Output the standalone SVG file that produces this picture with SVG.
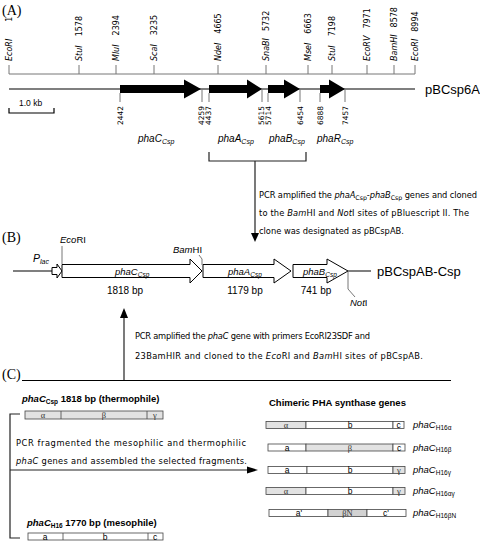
<svg xmlns="http://www.w3.org/2000/svg" width="480" height="545" viewBox="0 0 480 545">
<style>
text{font-family:"Liberation Sans",Arial,sans-serif;fill:#000}
.lbl{font-family:"Liberation Serif","Times New Roman",serif;font-size:14px}
.rt{font-family:"DejaVu Sans",Verdana,sans-serif;font-size:8px}
.rb{font-family:"DejaVu Sans",Verdana,sans-serif;font-size:7.5px}
.it{font-style:italic}
.g{stroke:#777;stroke-width:1;fill:none}
.k{stroke:#000;stroke-width:1.2;fill:none}
.c{stroke:#222;stroke-width:1.2;fill:none}
.blk{fill:#000}
.box{fill:#fff;stroke:#000;stroke-width:1}
.bar{stroke:#444;stroke-width:0.8}
.sh{fill:#e2e2e2}
.sh2{fill:#d2d2d2}
.wh{fill:#fff}
.gr{font-family:"Liberation Serif","Times New Roman",serif;font-size:8.5px;fill:#333;text-anchor:middle}
.la{font-size:8.5px;text-anchor:middle}
.t9{font-family:"DejaVu Sans",Verdana,sans-serif;font-size:8.3px}
.gene{font-size:10px;font-style:italic}
.b{font-weight:bold}
.mid{text-anchor:middle}
</style>

<g id="label-A"><text class="lbl" x="2" y="15">(A)</text></g>

<g id="restriction-map">
  <line class="g" x1="9" y1="74" x2="415" y2="74"/>
  <path class="g" d="M9,65V74M79,65V74M116,65V74M154,65V74M218,65V74M266,65V74M308,65V74M332,65V74M367,65V74M394,65V74M415,65V74"/>
  <text class="rt" transform="translate(9,61) rotate(-90)" y="3"><tspan class="it">EcoRI</tspan><tspan dx="17">1</tspan></text>
  <text class="rt" transform="translate(79,61) rotate(-90)" y="3"><tspan class="it">StuI</tspan><tspan dx="9">1578</tspan></text>
  <text class="rt" transform="translate(116,61) rotate(-90)" y="3"><tspan class="it">MluI</tspan><tspan dx="9">2394</tspan></text>
  <text class="rt" transform="translate(154,61) rotate(-90)" y="3"><tspan class="it">ScaI</tspan><tspan dx="9">3235</tspan></text>
  <text class="rt" transform="translate(218,61) rotate(-90)" y="3"><tspan class="it">NdeI</tspan><tspan dx="9">4665</tspan></text>
  <text class="rt" transform="translate(266,61) rotate(-90)" y="3"><tspan class="it">SnaBI</tspan><tspan dx="7">5732</tspan></text>
  <text class="rt" transform="translate(308,61) rotate(-90)" y="3"><tspan class="it">MseI</tspan><tspan dx="9">6663</tspan></text>
  <text class="rt" transform="translate(332,61) rotate(-90)" y="3"><tspan class="it">StuI</tspan><tspan dx="9">7198</tspan></text>
  <text class="rt" transform="translate(367,61) rotate(-90)" y="3"><tspan class="it">EcoRV</tspan><tspan dx="7">7971</tspan></text>
  <text class="rt" transform="translate(394,61) rotate(-90)" y="3"><tspan class="it">BamHI</tspan><tspan dx="7">8578</tspan></text>
  <text class="rt" transform="translate(415,61) rotate(-90)" y="3"><tspan class="it">EcoRI</tspan><tspan dx="7">8994</tspan></text>
</g>

<g id="pBCsp6A">
  <line class="k" x1="9" y1="89" x2="415" y2="89"/>
  <text x="425" y="94" font-size="13">pBCsp6A</text>
  <polygon class="blk" points="120,85 184,85 184,79.5 201,89 184,98.5 184,93 120,93"/>
  <polygon class="blk" points="209,85 247,85 247,79.5 262,89 247,98.5 247,93 209,93"/>
  <polygon class="blk" points="268,85 284,85 284,79.5 300,89 284,98.5 284,93 268,93"/>
  <polygon class="blk" points="320,85 329,85 329,79.5 345,89 329,98.5 329,93 320,93"/>
  <path class="g" d="M120,93V102M202,89V102M209,93V102M262,89V102M268,93V102M300,89V102M320,93V102M345,89V102"/>
  <text class="rb" text-anchor="end" transform="translate(120,106) rotate(-90)" y="2.7">2442</text>
  <text class="rb" text-anchor="end" transform="translate(201,106) rotate(-90)" y="2.7">4259</text>
  <text class="rb" text-anchor="end" transform="translate(208.5,106) rotate(-90)" y="2.7">4437</text>
  <text class="rb" text-anchor="end" transform="translate(261,106) rotate(-90)" y="2.7">5615</text>
  <text class="rb" text-anchor="end" transform="translate(268.5,106) rotate(-90)" y="2.7">5714</text>
  <text class="rb" text-anchor="end" transform="translate(300,106) rotate(-90)" y="2.7">6454</text>
  <text class="rb" text-anchor="end" transform="translate(320,106) rotate(-90)" y="2.7">6888</text>
  <text class="rb" text-anchor="end" transform="translate(345,106) rotate(-90)" y="2.7">7457</text>
  <text class="gene" x="138" y="142">phaC<tspan font-size="7" dy="1.5">Csp</tspan></text>
  <text class="gene" x="218" y="142">phaA<tspan font-size="7" dy="1.5">Csp</tspan></text>
  <text class="gene" x="269" y="142">phaB<tspan font-size="7" dy="1.5">Csp</tspan></text>
  <text class="gene" x="317" y="142">phaR<tspan font-size="7" dy="1.5">Csp</tspan></text>
</g>

<g id="scale-bar">
  <path class="k" d="M9,108V113H54V108" stroke-width="1"/>
  <text x="19" y="106" font-size="8.5">1.0 kb</text>
</g>

<g id="connectors">
  <path class="c" d="M209,152V161H306V152M255,161V234"/>
  <polygon class="blk" points="251,233 259,233 255,242"/>
  <path class="c" d="M124,380V318"/>
  <polygon class="blk" points="120,318 128,318 124,308"/>
  <path class="c" d="M20,414H10V538H20M10,470H249"/>
  <polygon class="blk" points="247,466.5 258,470 247,473.5"/>
</g>

<g id="note-1">
  <text class="t9" x="259" y="198" textLength="218">PCR amplified the <tspan class="it">phaA</tspan><tspan font-size="6.3" dy="1.5">Csp</tspan><tspan dy="-1.5">-</tspan><tspan class="it">phaB</tspan><tspan font-size="6.3" dy="1.5">Csp</tspan><tspan dy="-1.5"> genes and cloned</tspan></text>
  <text class="t9" x="259" y="216" textLength="210">to the <tspan class="it">Bam</tspan>HI and <tspan class="it">Not</tspan>I sites of pBluescript II. The</text>
  <text class="t9" x="259" y="234">clone was designated as pBCspAB.</text>
</g>

<g id="label-B"><text class="lbl" x="2" y="242">(B)</text></g>

<g id="pBCspAB-Csp">
  <path class="k" d="M13,271H52M348,271H371"/>
  <polygon class="box" stroke-width="0.8" points="52,267.5 57,267.5 57,264 62,271 57,278 57,274.5 52,274.5"/>
  <text x="33" y="262" font-size="10.5" class="it">P<tspan font-size="7" dy="1.5">lac</tspan></text>
  <path class="g" d="M62,246V264"/>
  <text x="60" y="243" font-size="9.5"><tspan class="it">Eco</tspan>RI</text>
  <polygon class="box" points="62,264.5 190,264.5 190,259 202,271 190,283 190,277.5 62,277.5"/>
  <text x="173" y="253" font-size="9.5"><tspan class="it">Bam</tspan>HI</text>
  <path class="g" d="M199,255L202,259V265"/>
  <polygon class="box" points="203,264.5 274,264.5 274,259 291,271 274,283 274,277.5 203,277.5"/>
  <polygon class="box" points="293,264.5 327,264.5 327,259 348,271 327,283 327,277.5 293,277.5"/>
  <path class="g" d="M348,272V289L355,297"/>
  <text x="350" y="306" font-size="9.5"><tspan class="it">Not</tspan>I</text>
  <text x="377" y="276" font-size="13">pBCspAB-Csp</text>
  <text x="115" y="275" font-size="9.5" class="it">phaC<tspan font-size="6.5" dy="1.5">Csp</tspan></text>
  <text x="228" y="275" font-size="9.5" class="it">phaA<tspan font-size="6.5" dy="1.5">Csp</tspan></text>
  <text x="303" y="275" font-size="9.5" class="it">phaB<tspan font-size="6.5" dy="1.5">Csp</tspan></text>
  <text x="125" y="294" font-size="10" class="mid">1818 bp</text>
  <text x="245" y="294" font-size="10" class="mid">1179 bp</text>
  <text x="316" y="294" font-size="10" class="mid">741 bp</text>
</g>

<g id="note-2">
  <text class="t9" x="135" y="339" textLength="235">PCR amplified the <tspan class="it">phaC</tspan> gene with primers EcoRI23SDF and</text>
  <text class="t9" x="135" y="359" textLength="288">23BamHIR and cloned to the <tspan class="it">Eco</tspan>RI and <tspan class="it">Bam</tspan>HI sites of pBCspAB.</text>
</g>

<g id="label-C">
  <text class="lbl" x="2" y="379">(C)</text>
  <line x1="22" y1="380.5" x2="451" y2="380.5" stroke="#000" stroke-width="1"/>
</g>

<g id="phaC-Csp">
  <text x="22" y="402" font-size="9.5" class="b"><tspan class="it">phaC</tspan><tspan font-size="6.5" dy="1.5">Csp</tspan><tspan dy="-1.5"> 1818 bp (thermophile)</tspan></text>
  <rect class="bar sh" x="25" y="411" width="138" height="8"/>
  <path class="bar" d="M61,411V419M147,411V419"/>
  <text class="gr" x="43" y="418">α</text>
  <text class="gr" x="104" y="418">β</text>
  <text class="gr" x="155" y="418">γ</text>
</g>

<g id="note-3">
  <text class="t9" x="16" y="446" textLength="230">PCR fragmented the mesophilic and thermophilic</text>
  <text class="t9" x="16" y="464" textLength="231"><tspan class="it">phaC</tspan> genes and assembled the selected fragments.</text>
</g>

<g id="phaC-H16">
  <text x="27" y="526" font-size="9.5" class="b"><tspan class="it">phaC</tspan><tspan font-size="6.5" dy="1.5">H16</tspan><tspan dy="-1.5"> 1770 bp (mesophile)</tspan></text>
  <rect class="bar wh" x="28" y="533" width="135" height="7"/>
  <path class="bar" d="M63,533V540M148,533V540"/>
  <text class="la" x="45" y="540">a</text>
  <text class="la" x="105" y="540">b</text>
  <text class="la" x="155" y="540">c</text>
</g>

<g id="chimeric">
  <text x="269" y="406" font-size="9.5" class="b">Chimeric PHA synthase genes</text>

  <g id="row-alpha">
    <rect class="bar sh" x="266" y="421.5" width="40" height="7"/>
    <rect class="bar wh" x="306" y="421.5" width="87" height="7"/>
    <rect class="bar wh" x="393" y="421.5" width="11" height="7"/>
    <text class="gr" x="286" y="428">α</text>
    <text class="la" x="350" y="428">b</text>
    <text class="la" x="398.5" y="428">c</text>
    <text x="413" y="428" font-size="9.5" class="it">phaC<tspan font-size="6.5" dy="1.5" font-style="normal">H16α</tspan></text>
  </g>
  <g id="row-beta">
    <rect class="bar wh" x="268" y="444" width="38" height="7"/>
    <rect class="bar sh" x="306" y="444" width="87" height="7"/>
    <rect class="bar wh" x="393" y="444" width="12" height="7"/>
    <text class="la" x="287" y="450.5">a</text>
    <text class="gr" x="350" y="450.5">β</text>
    <text class="la" x="399" y="450.5">c</text>
    <text x="413" y="450.5" font-size="9.5" class="it">phaC<tspan font-size="6.5" dy="1.5" font-style="normal">H16β</tspan></text>
  </g>
  <g id="row-gamma">
    <rect class="bar wh" x="268" y="466.5" width="39" height="7"/>
    <rect class="bar wh" x="307" y="466.5" width="86" height="7"/>
    <rect class="bar sh" x="393" y="466.5" width="12" height="7"/>
    <text class="la" x="287" y="473">a</text>
    <text class="la" x="350" y="473">b</text>
    <text class="gr" x="399" y="473">γ</text>
    <text x="413" y="473" font-size="9.5" class="it">phaC<tspan font-size="6.5" dy="1.5" font-style="normal">H16γ</tspan></text>
  </g>
  <g id="row-alpha-gamma">
    <rect class="bar sh" x="266" y="487.5" width="40" height="7"/>
    <rect class="bar wh" x="306" y="487.5" width="87" height="7"/>
    <rect class="bar sh" x="393" y="487.5" width="12" height="7"/>
    <text class="gr" x="286" y="494">α</text>
    <text class="la" x="350" y="494">b</text>
    <text class="gr" x="399" y="494">γ</text>
    <text x="413" y="494" font-size="9.5" class="it">phaC<tspan font-size="6.5" dy="1.5" font-style="normal">H16αγ</tspan></text>
  </g>
  <g id="row-betaN">
    <rect class="bar wh" x="269" y="509.5" width="59" height="7"/>
    <rect class="bar sh2" x="328" y="509.5" width="39" height="7"/>
    <rect class="bar wh" x="367" y="509.5" width="39" height="7"/>
    <text class="la" x="299" y="516">a'</text>
    <text class="gr" x="347.5" y="516" font-size="7.5">βN</text>
    <text class="la" x="386" y="516">c'</text>
    <text x="413" y="516" font-size="9.5" class="it">phaC<tspan font-size="6.5" dy="1.5" font-style="normal">H16βN</tspan></text>
  </g>
</g>
</svg>
